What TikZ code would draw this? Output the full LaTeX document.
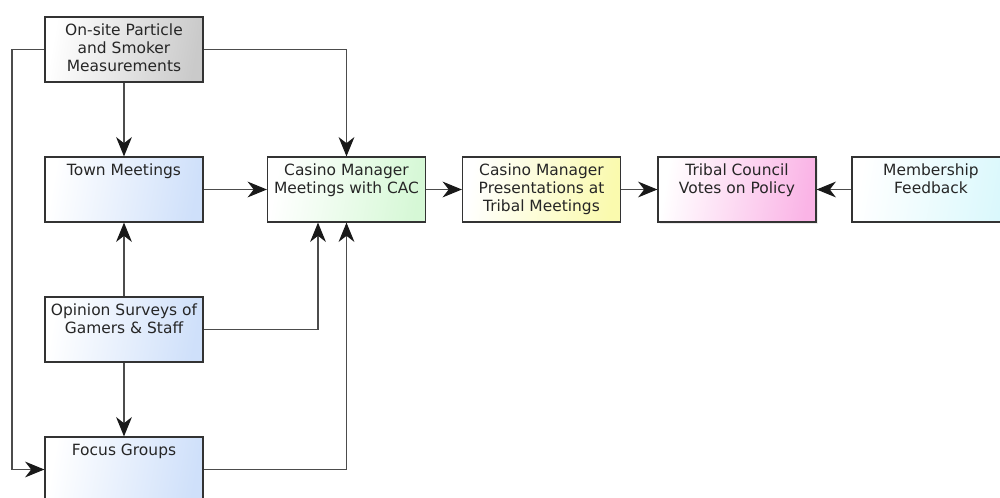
\documentclass[tikz,border=0pt]{standalone}
\usepackage{fontspec}
\setmainfont{DejaVu Sans}
\usepackage{tikz}
\usetikzlibrary{calc,arrows.meta,shadows}

\definecolor{boxline}{HTML}{333333}
\definecolor{gbox}{HTML}{CACACA}
\definecolor{bbox}{HTML}{CFE0FA}
\definecolor{grbox}{HTML}{D6F8D6}
\definecolor{ybox}{HTML}{FAFAAE}
\definecolor{pbox}{HTML}{FAB4E6}
\definecolor{cbox}{HTML}{DAF8FC}

\newcommand{\boxtext}[1]{\parbox[t][1.02cm][t]{3.06cm}{\centering #1}}

\begin{document}
\begin{tikzpicture}
          \useasboundingbox (0,0) rectangle (20,-9.96);
          \tikzset{
            Box/.style = {draw=boxline, line width=0.7pt, inner xsep=0.05cm,
              inner ysep=0.14cm, text=black!85, font=\fontsize{8.8}{10.3}\selectfont,
              left color=white, middle color=white!65!#1, right color=#1, shading angle=80},
            EdgeStyle/.style = {draw=black!70, line width=0.6pt,
              -{Stealth[length=11pt,width=9pt,inset=3.5pt,color=black!90]}}
          }

          % sources
          \node[Box=gbox] (meas) at (2.48,-0.99) {\boxtext{On-site Particle\\and Smoker\\Measurements}};
          \node[Box=bbox] (town) at (2.48,-3.79) {\boxtext{Town Meetings}};
          \node[Box=bbox] (opin) at (2.48,-6.59) {\boxtext{Opinion Surveys of\\Gamers \& Staff}};
          \node[Box=bbox] (focus) at (2.48,-9.39) {\boxtext{Focus Groups}};

          % decision chain
          \node[Box=grbox] (cac) at (6.93,-3.79) {\boxtext{Casino Manager\\Meetings with CAC}};
          \node[Box=ybox] (pres) at (10.83,-3.79) {\boxtext{Casino Manager\\Presentations at\\Tribal Meetings}};
          \node[Box=pbox, drop shadow={opacity=0.15, shadow xshift=1pt, shadow yshift=-1pt}] (tribal) at (14.74,-3.79) {\boxtext{Tribal Council\\Votes on Policy}};
          \node[Box=cbox] (memb) at (18.62,-3.79) {\boxtext{Membership\\Feedback}};

          \coordinate (lft) at (0.24,-9.39);

          \draw[EdgeStyle] (meas) -- (town);
          \draw[EdgeStyle] (meas.east) -| (cac.north);
          \draw[EdgeStyle] (meas.west) -| (lft) -- (focus.west);
          \draw[EdgeStyle] (town) -- (cac);
          \draw[EdgeStyle] (opin) -- (town);
          \draw[EdgeStyle] (opin.east) -| ([xshift=-0.57cm]cac.south);
          \draw[EdgeStyle] (opin) -- (focus);
          \draw[EdgeStyle] (focus.east) -| (cac.south);

          \draw[EdgeStyle] (cac) -- (pres);
          \draw[EdgeStyle] (pres) -- (tribal);
          \draw[EdgeStyle] (memb) -- (tribal);
        \end{tikzpicture}
\end{document}
